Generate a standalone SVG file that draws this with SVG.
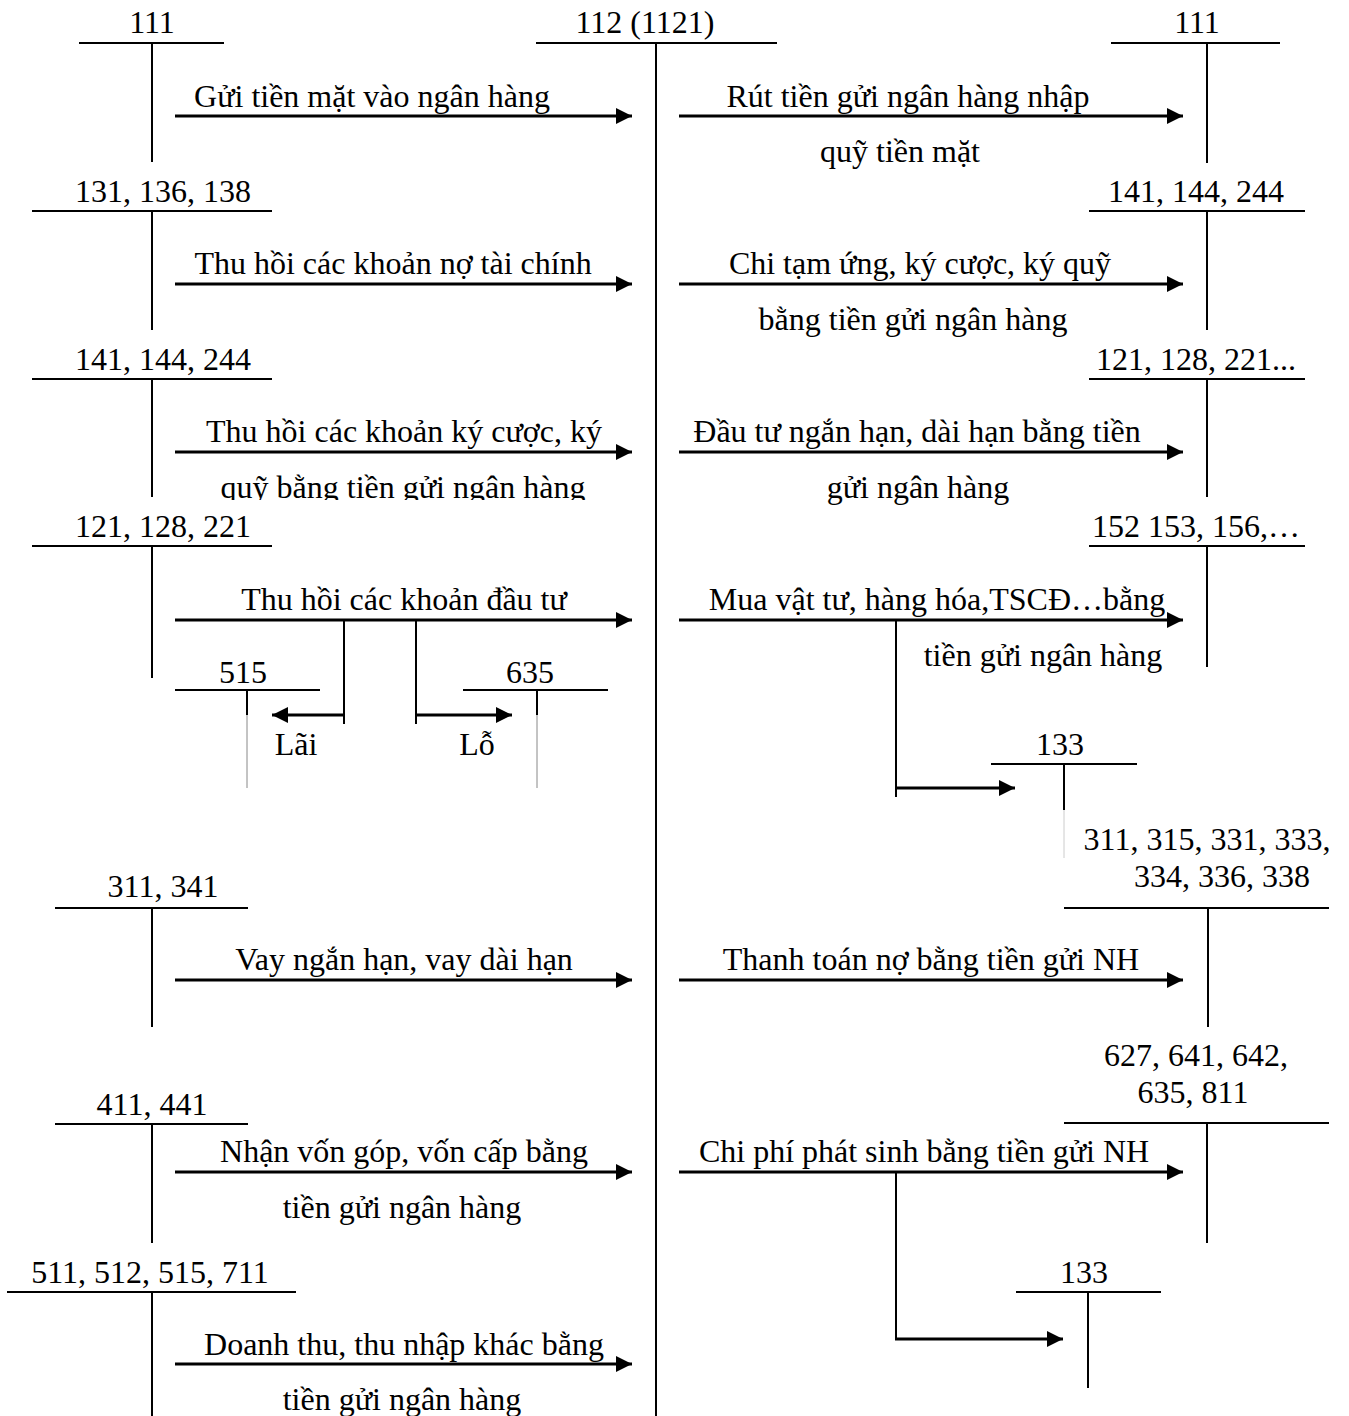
<svg xmlns="http://www.w3.org/2000/svg" width="1349" height="1416" viewBox="0 0 1349 1416">
<style>
text{font-family:"Liberation Serif","Times New Roman",serif;font-size:32px;fill:#000;text-anchor:middle}
.t{stroke:#000;stroke-width:2;fill:none}
.a{stroke:#000;stroke-width:3;fill:none;marker-end:url(#ah)}
.b{stroke:#000;stroke-width:2;fill:none}
.thin{stroke:#888;stroke-width:1;fill:none}
</style>
<defs>
<marker id="ah" markerUnits="userSpaceOnUse" markerWidth="18" markerHeight="18" refX="16" refY="8" orient="auto"><path d="M0,0 L16,8 L0,16 z" fill="#000"/></marker>
<clipPath id="clip3"><rect x="0" y="460" width="660" height="40"/></clipPath>
</defs>
<rect width="1349" height="1416" fill="#fff"/>

<g id="acc112"><text x="645" y="33">112 (1121)</text><path class="t" d="M536,43H777M656,43V1416"/></g>

<g id="acc111L"><text x="152" y="33">111</text><path class="t" d="M79,43H224M152,43V162"/></g>
<g id="acc111R"><text x="1197" y="33">111</text><path class="t" d="M1111,43H1280M1207,43V163"/></g>
<g id="acc131"><text x="163" y="202">131, 136, 138</text><path class="t" d="M32,211H272M152,211V330"/></g>
<g id="acc141R"><text x="1196" y="202">141, 144, 244</text><path class="t" d="M1089,211H1305M1207,211V330"/></g>
<g id="acc141L"><text x="163" y="370">141, 144, 244</text><path class="t" d="M32,379H272M152,379V497"/></g>
<g id="acc121R"><text x="1196" y="370">121, 128, 221...</text><path class="t" d="M1089,379H1305M1207,379V497"/></g>
<g id="acc121L"><text x="163" y="537">121, 128, 221</text><path class="t" d="M32,546H272M152,546V678"/></g>
<g id="acc152"><text x="1196" y="537">152 153, 156,…</text><path class="t" d="M1089,546H1305M1207,546V667"/></g>
<g id="acc515"><text x="243" y="683">515</text><path class="t" d="M175,690H320M247,690V715"/><path class="thin" d="M247,715V788"/></g>
<g id="acc635"><text x="530" y="683">635</text><path class="t" d="M463,690H608M537,690V715"/><path class="thin" d="M537,715V788"/></g>
<g id="acc133a"><text x="1060" y="755">133</text><path class="t" d="M991,764H1137M1064,764V810"/><path class="thin" d="M1064,810V858" style="stroke:#ccc"/></g>
<g id="acc311R"><text x="1207" y="850">311, 315, 331, 333,</text><text x="1222" y="887">334, 336, 338</text><path class="t" d="M1064,908H1329M1208,908V1027"/></g>
<g id="acc311L"><text x="163" y="897">311, 341</text><path class="t" d="M55,908H248M152,908V1027"/></g>
<g id="acc627"><text x="1196" y="1066">627, 641, 642,</text><text x="1193" y="1103">635, 811</text><path class="t" d="M1064,1123H1329M1207,1123V1243"/></g>
<g id="acc411"><text x="152" y="1115">411, 441</text><path class="t" d="M55,1124H248M152,1124V1243"/></g>
<g id="acc133b"><text x="1084" y="1283">133</text><path class="t" d="M1016,1292H1161M1088,1292V1388"/></g>
<g id="acc511"><text x="150" y="1283">511, 512, 515, 711</text><path class="t" d="M7,1292H296M152,1292V1416"/></g>

<g id="connectors">
<path class="a" d="M175,116H632"/><path class="a" d="M679,116H1183"/>
<path class="a" d="M175,284H632"/><path class="a" d="M679,284H1183"/>
<path class="a" d="M175,452H632"/><path class="a" d="M679,452H1183"/>
<path class="a" d="M175,620H632"/><path class="a" d="M679,620H1183"/>
<path class="b" d="M344,620V724"/><path class="a" d="M344,715H272"/>
<path class="b" d="M416,620V724"/><path class="a" d="M416,715H512"/>
<path class="b" d="M896,620V797"/><path class="a" d="M896,788H1015"/>
<path class="a" d="M175,980H632"/><path class="a" d="M679,980H1183"/>
<path class="a" d="M175,1172H632"/><path class="a" d="M679,1172H1183"/>
<path class="b" d="M896,1172V1339"/><path class="a" d="M895,1339H1063"/>
<path class="a" d="M175,1364H632"/>
</g>

<g id="labels">
<text x="372" y="107">Gửi tiền mặt vào ngân hàng</text>
<text x="908" y="107">Rút tiền gửi ngân hàng nhập</text>
<text x="900" y="162">quỹ tiền mặt</text>
<text x="393" y="274">Thu hồi các khoản nợ tài chính</text>
<text x="920" y="274">Chi tạm ứng, ký cược, ký quỹ</text>
<text x="913" y="330">bằng tiền gửi ngân hàng</text>
<text x="404" y="442">Thu hồi các khoản ký cược, ký</text>
<text x="403" y="498" clip-path="url(#clip3)">quỹ bằng tiền gửi ngân hàng</text>
<text x="917" y="442">Đầu tư ngắn hạn, dài hạn bằng tiền</text>
<text x="918" y="498">gửi ngân hàng</text>
<text x="404" y="610">Thu hồi các khoản đầu tư</text>
<text x="937" y="610">Mua vật tư, hàng hóa,TSCĐ…bằng</text>
<text x="1043" y="666">tiền gửi ngân hàng</text>
<text x="296" y="755">Lãi</text>
<text x="477" y="755">Lỗ</text>
<text x="404" y="970">Vay ngắn hạn, vay dài hạn</text>
<text x="931" y="970">Thanh toán nợ bằng tiền gửi NH</text>
<text x="404" y="1162">Nhận vốn góp, vốn cấp bằng</text>
<text x="402" y="1218">tiền gửi ngân hàng</text>
<text x="924" y="1162">Chi phí phát sinh bằng tiền gửi NH</text>
<text x="404" y="1355">Doanh thu, thu nhập khác bằng</text>
<text x="402" y="1410">tiền gửi ngân hàng</text>
</g>
</svg>
